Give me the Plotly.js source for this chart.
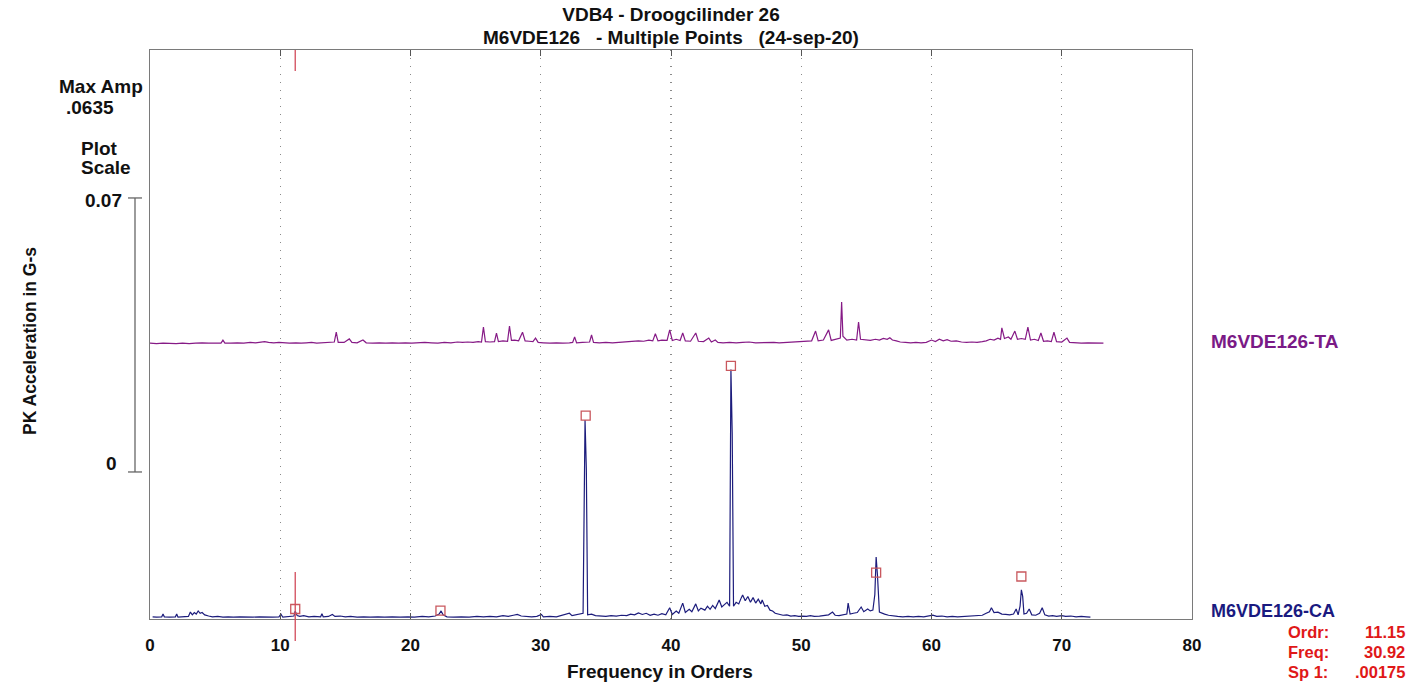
<!DOCTYPE html>
<html>
<head>
<meta charset="utf-8">
<script src="https://cdn.plot.ly/plotly-3.0.1.min.js"></script>
<style>html,body{margin:0;padding:0;background:#fff;}#chart{width:1416px;height:684px;}</style>
</head>
<body>
<div id="chart"></div>
<script>
// ---------------- DATA ----------------
// Spectrum M6VDE126-CA (bottom), orders and PK acceleration (G-s)
const caOrders = [0.2,0.5,0.9,1.0,1.1,1.5,1.95,2.05,2.15,2.6,2.95,3.1,3.25,3.4,3.55,3.7,3.85,4.0,4.2,4.5,4.8,5.2,5.6,6.0,6.4,6.9,7.4,7.9,8.4,8.9,9.4,9.9,10.05,10.2,10.7,11.05,11.15,11.3,11.5,11.8,12.2,12.6,13.1,13.2,13.3,13.7,14.0,14.2,14.6,15.0,15.4,15.9,16.4,16.9,17.5,18.0,18.6,19.2,19.8,20.3,20.9,21.4,21.9,22.2,22.35,22.5,22.8,23.3,23.9,24.5,25.1,25.6,26.1,26.6,27.1,27.5,27.9,28.2,28.5,28.9,29.3,29.7,30.05,30.2,30.7,31.2,31.6,31.9,32.2,32.4,32.7,33.0,33.25,33.4,33.5,33.6,33.9,34.2,34.6,35.0,35.4,35.8,36.2,36.6,36.9,37.2,37.5,37.8,38.1,38.4,38.7,39.0,39.3,39.6,39.9,40.1,40.4,40.6,40.9,41.1,41.4,41.6,41.9,42.1,42.3,42.6,42.8,43.0,43.2,43.4,43.7,43.9,44.1,44.3,44.5,44.6,44.7,44.8,45.0,45.2,45.4,45.5,45.7,45.9,46.1,46.3,46.5,46.7,46.9,47.0,47.2,47.4,47.6,47.8,48.0,48.3,48.6,48.9,49.2,49.5,49.8,50.1,50.4,50.7,51.0,51.4,51.8,52.1,52.4,52.6,52.9,53.2,53.5,53.6,53.75,54.0,54.3,54.6,54.8,55.1,55.3,55.5,55.65,55.75,55.85,56.0,56.2,56.4,56.7,57.0,57.4,57.8,58.2,58.6,59.0,59.4,59.8,60.1,60.4,60.8,61.2,61.6,62.0,62.4,62.8,63.2,63.6,63.9,64.2,64.45,64.6,64.8,65.1,65.4,65.7,66.0,66.3,66.5,66.65,66.8,66.9,67.0,67.1,67.3,67.5,67.7,68.0,68.3,68.5,68.7,69.0,69.3,69.6,70.0,70.3,70.7,71.1,71.5,71.9,72.2];
const caAmp = [0.0003,0.0002,0.0003,0.0010,0.0003,0.0002,0.0003,0.0010,0.0002,0.0003,0.0004,0.0015,0.0008,0.0014,0.0010,0.0018,0.0012,0.0014,0.0008,0.0005,0.0003,0.0004,0.0002,0.0003,0.0002,0.0003,0.0002,0.0002,0.0003,0.0002,0.0002,0.0003,0.0010,0.0002,0.0003,0.0005,0.00175,0.0006,0.0004,0.0006,0.0003,0.0004,0.0003,0.0011,0.0003,0.0004,0.0009,0.0004,0.0005,0.0003,0.0004,0.0002,0.0003,0.0002,0.0003,0.0002,0.0003,0.0002,0.0003,0.0002,0.0004,0.0003,0.0005,0.0010,0.0018,0.0008,0.0003,0.0002,0.0003,0.0002,0.0004,0.0003,0.0004,0.0003,0.0006,0.0004,0.0007,0.0009,0.0005,0.0004,0.0003,0.0004,0.0009,0.0003,0.0004,0.0003,0.0006,0.0009,0.0012,0.0006,0.0008,0.0010,0.0012,0.0506,0.0380,0.0008,0.0010,0.0006,0.0005,0.0004,0.0006,0.0005,0.0007,0.0006,0.0010,0.0008,0.0013,0.0009,0.0012,0.0007,0.0010,0.0007,0.0011,0.0008,0.0026,0.0009,0.0018,0.0012,0.0038,0.0014,0.0022,0.0016,0.0036,0.0018,0.0025,0.0020,0.0030,0.0022,0.0032,0.0024,0.0046,0.0028,0.0034,0.0040,0.0030,0.0635,0.0470,0.0030,0.0040,0.0036,0.0052,0.0059,0.0044,0.0055,0.0040,0.0052,0.0038,0.0048,0.0036,0.0046,0.0030,0.0032,0.0020,0.0018,0.0012,0.0010,0.0007,0.0008,0.0005,0.0006,0.0004,0.0005,0.0004,0.0006,0.0004,0.0005,0.0006,0.0008,0.0015,0.0007,0.0006,0.0008,0.0010,0.0038,0.0010,0.0012,0.0014,0.0028,0.0016,0.0023,0.0018,0.0020,0.0060,0.0156,0.0110,0.0015,0.0012,0.0010,0.0007,0.0005,0.0004,0.0003,0.0004,0.0003,0.0004,0.0003,0.0005,0.0007,0.0004,0.0005,0.0003,0.0004,0.0003,0.0004,0.0005,0.0006,0.0008,0.0007,0.0012,0.0016,0.0026,0.0014,0.0015,0.0010,0.0009,0.0008,0.0010,0.0023,0.0008,0.0030,0.0072,0.0055,0.0010,0.0012,0.0023,0.0008,0.0007,0.0012,0.0026,0.0008,0.0005,0.0006,0.0004,0.0006,0.0004,0.0005,0.0003,0.0004,0.0003,0.0002];

// Spectrum M6VDE126-TA (top), orders and PK acceleration (G-s)
const taOrders = [0.0,0.5,1.0,1.5,2.0,2.5,3.0,3.5,4.0,4.5,5.0,5.45,5.6,5.75,6.2,6.7,7.2,7.7,8.1,8.5,8.8,9.1,9.5,9.9,10.3,10.7,11.2,11.6,12.0,12.4,12.8,13.3,13.8,14.15,14.3,14.45,14.9,15.3,15.5,15.9,16.35,16.6,17.1,17.6,18.1,18.6,19.1,19.6,20.1,20.6,21.1,21.6,22.1,22.6,23.1,23.6,24.0,24.4,24.8,25.2,25.45,25.6,25.75,26.1,26.45,26.6,26.75,27.1,27.45,27.6,27.75,28.0,28.3,28.6,28.8,29.1,29.4,29.6,29.8,30.2,30.7,31.2,31.7,32.2,32.45,32.6,32.75,33.2,33.75,33.9,34.05,34.5,35.0,35.5,36.0,36.5,36.9,37.2,37.5,37.9,38.3,38.6,38.8,39.0,39.3,39.7,39.9,40.1,40.4,40.7,40.9,41.1,41.5,41.9,42.1,42.5,42.9,43.1,43.4,43.6,44.0,44.5,45.0,45.5,46.0,46.5,47.0,47.5,47.9,48.3,48.8,49.2,49.6,50.0,50.4,50.8,51.1,51.3,51.7,52.1,52.3,52.7,53.0,53.1,53.2,53.5,53.9,54.25,54.4,54.55,54.9,55.3,55.7,56.0,56.3,56.6,56.8,57.0,57.3,57.6,58.0,58.4,58.8,59.2,59.6,60.0,60.3,60.6,60.9,61.2,61.5,61.9,62.3,62.7,63.1,63.5,63.9,64.2,64.5,64.8,65.1,65.3,65.4,65.6,65.9,66.1,66.4,66.6,66.9,67.2,67.4,67.6,67.9,68.2,68.4,68.6,68.9,69.2,69.4,69.6,70.0,70.4,70.6,71.0,71.5,72.0,72.5,73.2];
const taAmp = [0.0002,0.0001,0.0002,0.0001,0.0001,0.0002,0.0001,0.0002,0.0003,0.0002,0.0003,0.0002,0.0010,0.0002,0.0002,0.0003,0.0002,0.0004,0.0003,0.0005,0.0006,0.0004,0.0003,0.0004,0.0003,0.0002,0.0003,0.0002,0.0003,0.0004,0.0002,0.0003,0.0004,0.0005,0.0030,0.0004,0.0004,0.0013,0.0004,0.0003,0.0010,0.0003,0.0002,0.0003,0.0002,0.0003,0.0002,0.0003,0.0002,0.0003,0.0004,0.0003,0.0002,0.0004,0.0003,0.0005,0.0004,0.0005,0.0004,0.0006,0.0005,0.0043,0.0006,0.0005,0.0006,0.0028,0.0006,0.0008,0.0007,0.0046,0.0009,0.0010,0.0008,0.0030,0.0008,0.0007,0.0006,0.0015,0.0004,0.0003,0.0002,0.0003,0.0002,0.0003,0.0004,0.0018,0.0003,0.0004,0.0005,0.0023,0.0004,0.0003,0.0004,0.0003,0.0004,0.0005,0.0007,0.0006,0.0008,0.0007,0.0010,0.0008,0.0026,0.0008,0.0010,0.0009,0.0036,0.0009,0.0012,0.0009,0.0028,0.0008,0.0007,0.0028,0.0007,0.0006,0.0015,0.0005,0.0010,0.0004,0.0003,0.0004,0.0003,0.0004,0.0005,0.0003,0.0004,0.0005,0.0004,0.0003,0.0004,0.0003,0.0004,0.0005,0.0006,0.0008,0.0033,0.0008,0.0010,0.0036,0.0009,0.0012,0.0015,0.0107,0.0020,0.0010,0.0012,0.0010,0.0056,0.0012,0.0010,0.0009,0.0012,0.0010,0.0014,0.0012,0.0016,0.0010,0.0008,0.0005,0.0004,0.0003,0.0004,0.0003,0.0004,0.0010,0.0006,0.0012,0.0008,0.0011,0.0007,0.0008,0.0005,0.0004,0.0005,0.0004,0.0006,0.0008,0.0012,0.0010,0.0015,0.0012,0.0041,0.0014,0.0018,0.0012,0.0033,0.0012,0.0014,0.0012,0.0043,0.0010,0.0012,0.0009,0.0028,0.0007,0.0008,0.0006,0.0030,0.0006,0.0005,0.0015,0.0004,0.0003,0.0002,0.0003,0.0002,0.0002];

// Harmonic cursor markers (multiples of 11.15 orders) on the CA spectrum
const harmonicOrders = [11.15, 22.3, 33.45, 44.6, 55.75, 66.9];
const harmonicMarkAmp = [0.0023, 0.0019, 0.0517, 0.0644, 0.0116, 0.0106];

const xTickVals = [0,10,20,30,40,50,60,70,80];
const xTickText = ['0','10','20','30','40','50','60','70','80'];

const titleLines = ['VDB4 - Droogcilinder 26', 'M6VDE126 &nbsp; - Multiple Points &nbsp; (24-sep-20)'];
const cursorOrder = 11.15;
const cursorInfoLabels = ['Ordr:', 'Freq:', 'Sp 1:'];
const cursorInfoValues = ['11.15', '30.92', '.00175'];
const maxAmpText = '.0635';
const plotScale = 0.07;          // waterfall offset between the spectra
const scaleTickText = ['0.07', '0'];
const seriesNames = ['M6VDE126-TA', 'M6VDE126-CA'];

// ---------------- LAYOUT HELPERS ----------------
const W = 1416, H = 684;
const M = {l:150, r:224, t:50, b:65};
const PW = W - M.l - M.r, PH = H - M.t - M.b;
const X_RANGE = [0, 80];
const Y_RANGE = [-0.00026, 0.1451];
const px = x => (x - M.l) / PW;               // page px -> paper x
const py = y => (H - M.b - y) / PH;           // page px -> paper y
const yv = v => (v - Y_RANGE[0]) / (Y_RANGE[1] - Y_RANGE[0]);  // data y -> paper y
const xv = v => (v - X_RANGE[0]) / (X_RANGE[1] - X_RANGE[0]);  // data x -> paper x

const FONT = 'Liberation Sans, Arial, Helvetica, sans-serif';
const FS = 19;
const TA_COLOR = '#861a86';
const CA_COLOR = '#1c1c7c';
const RED = '#e01818';
const CURSOR_RED = '#d24a5a';

const traces = [
  {x: caOrders, y: caAmp, type:'scatter', mode:'lines', name: seriesNames[1],
   line:{color: CA_COLOR, width:1.2}, hoverinfo:'x+y'},
  {x: taOrders, y: taAmp.map(v => v + plotScale), type:'scatter', mode:'lines', name: seriesNames[0],
   line:{color: TA_COLOR, width:1.2}, hoverinfo:'x'},
  {x: harmonicOrders, y: harmonicMarkAmp, type:'scatter', mode:'markers', name:'harmonics',
   marker:{symbol:'square-open', size:9, color:'#c9585e', line:{width:1.3, color:'#c9585e'}}}
];

const scaleBottom = 0.0373;
const shapes = [
  // cursor line (top and bottom segments)
  {type:'line', xref:'paper', yref:'paper', x0:xv(cursorOrder), x1:xv(cursorOrder), y0:py(50), y1:py(71), line:{color:CURSOR_RED, width:1.3}},
  {type:'line', xref:'paper', yref:'paper', x0:xv(cursorOrder), x1:xv(cursorOrder), y0:py(572), y1:py(641), line:{color:CURSOR_RED, width:1.3}},
  // plot scale bar
  {type:'line', xref:'paper', yref:'paper', x0:px(135), x1:px(135), y0:yv(scaleBottom), y1:yv(scaleBottom+plotScale), line:{color:'#666', width:1.3}},
  {type:'line', xref:'paper', yref:'paper', x0:px(128), x1:px(142), y0:yv(scaleBottom), y1:yv(scaleBottom), line:{color:'#666', width:1.3}},
  {type:'line', xref:'paper', yref:'paper', x0:px(128), x1:px(142), y0:yv(scaleBottom+plotScale), y1:yv(scaleBottom+plotScale), line:{color:'#666', width:1.3}}
];

function ann(text, x, y, xanchor, color, size, extra) {
  return Object.assign({text, xref:'paper', yref:'paper', x:px(x), y:py(y), xanchor, yanchor:'middle',
    showarrow:false, font:{family:FONT, size: size || FS, color: color || '#111', weight:'bold'}}, extra || {});
}

const annotations = [
  ann(titleLines[1], 671, 37, 'center'),
  ann('Max Amp', 101, 86, 'center'),
  ann(maxAmpText, 64, 107, 'left'),
  ann('Plot', 79, 148, 'left'),
  ann('Scale', 79, 168, 'left'),
  ann(scaleTickText[0], 124, 200, 'right'),
  ann(scaleTickText[1], 119, 463, 'right'),
  ann('PK Acceleration in G-s', 30, 341, 'center', '#111', 17.5, {textangle:-90}),
  ann('Frequency in Orders', 660, 671, 'center'),
  ann(seriesNames[0], 1209, 341, 'left', '#7a1a86'),
  ann(seriesNames[1], 1209, 611, 'left', '#1a1a80', 18),
];
const infoY = [632, 652, 672];
cursorInfoLabels.forEach((t,i) => annotations.push(ann(t, 1286, infoY[i], 'left', RED, 16.5)));
cursorInfoValues.forEach((t,i) => annotations.push(ann(t, 1407, infoY[i], 'right', RED, 16.5)));

const layout = {
  width: W, height: H,
  margin: M,
  paper_bgcolor:'#fff', plot_bgcolor:'#fff',
  showlegend:false,
  font:{family:FONT, size:FS, color:'#111'},
  title:{text:titleLines[0], x:0.5, xref:'paper', xanchor:'center',
         y:1 - 14/H, yref:'container', yanchor:'middle',
         font:{family:FONT, size:FS, color:'#111', weight:'bold'}},
  xaxis:{range:X_RANGE, tickvals:xTickVals, ticktext:xTickText,
         showgrid:true, gridcolor:'#8a8a8a', griddash:'1px,7px', gridwidth:1.2,
         zeroline:false, showline:true, mirror:'ticks', linecolor:'#7a7a7a', linewidth:1.2,
         ticks:'inside', ticklen:6, tickcolor:'#555', tickwidth:1,
         tickfont:{family:FONT, size:17, color:'#111', weight:'bold'},
         ticklabelstandoff:10, fixedrange:true},
  yaxis:{range:Y_RANGE, showticklabels:false, ticks:'', showgrid:false, zeroline:false,
         showline:true, mirror:true, linecolor:'#7a7a7a', linewidth:1.2, fixedrange:true},
  shapes, annotations
};

Plotly.newPlot('chart', traces, layout, {displayModeBar:false, staticPlot:true});
</script>
</body>
</html>
